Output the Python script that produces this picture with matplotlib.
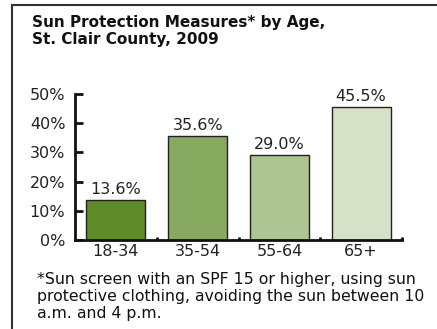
import numpy as np
import matplotlib
matplotlib.use("Agg")
import matplotlib.pyplot as plt
from matplotlib.lines import Line2D

ages = ["18-34", "35-54", "55-64", "65+"]
values = [13.6, 35.6, 29.0, 45.5]
colors = ["#5e8a28", "#87a960", "#adc493", "#d6e2c8"]
yticks = [0, 10, 20, 30, 40, 50]

title = "Sun Protection Measures* by Age,\nSt. Clair County, 2009"
note = ("*Sun screen with an SPF 15 or higher, using sun\n"
        "protective clothing, avoiding the sun between 10\n"
        "a.m. and 4 p.m.")

plt.rcParams["font.family"] = "DejaVu Sans"
W, H = 437, 329
fig = plt.figure(figsize=(W / 100, H / 100), dpi=100)

# frame: top and left border only
fig.add_artist(Line2D([12 / W, 1], [1 - 5 / H, 1 - 5 / H], color="#333333", lw=1.5))
fig.add_artist(Line2D([12 / W, 12 / W], [0, 1 - 5 / H], color="#333333", lw=1.5))

fig.text(32 / W, 1 - 15 / H, title, fontsize=11, fontweight="bold",
         va="top", ha="left", color="#111111", linespacing=1.2)

ax = fig.add_axes([75 / W, 1 - 240 / H, (402 - 75) / W, (240 - 94) / H])
x = np.arange(len(ages))
bars = ax.bar(x, values, width=0.72, color=colors, edgecolor="#222222", linewidth=1)
for xi, v in zip(x, values):
    ax.annotate(f"{v:.1f}%", (xi, v), xytext=(0, 2.5), textcoords="offset points",
                ha="center", va="bottom", fontsize=11.5, color="#222222")

ax.set_xlim(-0.5, 3.5)
ax.set_ylim(0, 50)
ax.set_yticks(yticks)
ax.set_yticklabels([f"{t}%" for t in yticks], fontsize=11.5, color="#222222")
ax.set_xticks(x)
ax.set_xticklabels(ages, fontsize=11.5, color="#222222")
ax.tick_params(axis="x", length=0, pad=3)
ax.tick_params(axis="y", direction="in", length=6, width=2, pad=7, color="#111111")
ax.set_xticks(np.arange(4) + 0.5, minor=True)
ax.tick_params(axis="x", which="minor", direction="in", length=2, width=2, color="#111111")
for s in ["top", "right"]:
    ax.spines[s].set_visible(False)
for s in ["left", "bottom"]:
    ax.spines[s].set_linewidth(2)
    ax.spines[s].set_color("#111111")

fig.text(37 / W, 1 - 272 / H, note, fontsize=11.3, va="top", ha="left",
         color="#111111", linespacing=1.17)

fig.savefig("out.png", dpi=100)
